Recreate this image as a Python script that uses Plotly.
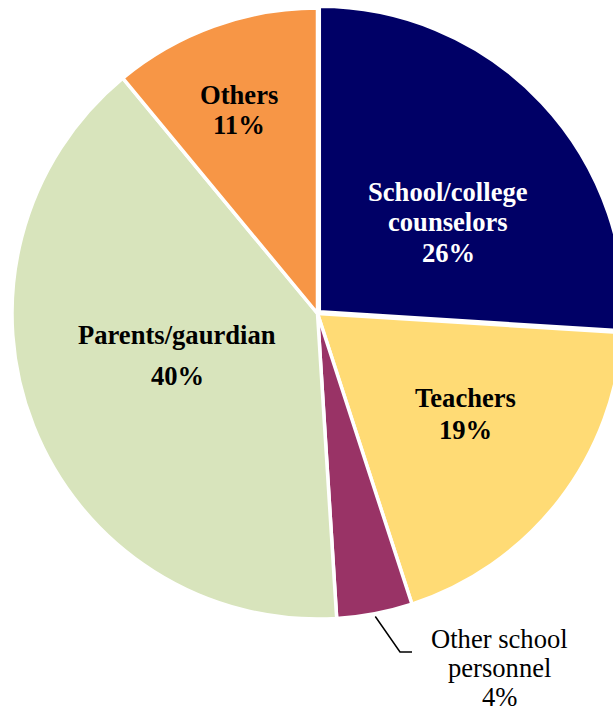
import math
import plotly.graph_objects as go

# Who students turn to for guidance (share of responses, %)
categories = ["School/college counselors", "Teachers", "Other school personnel",
              "Parents/gaurdian", "Others"]
shares = [26, 19, 4, 40, 11]
colors = ["#000066", "#FFDB75", "#993366", "#D8E4BC", "#F79646"]
pulls = [0.008, 0, 0, 0, 0]

W, H = 640, 713
CX, CY, R = 317.5, 313.5, 305.5   # pie centre and radius, in pixels
SERIF = "Liberation Serif"
FONT_SIZE = 26.6


def px(x):
    return x / W


def py(y):
    return 1 - y / H


RD = R * (1 + max(pulls))   # domain half-size leaves room for the pulled slice
fig = go.Figure(go.Pie(
    labels=categories,
    values=shares,
    sort=False,
    direction="clockwise",
    rotation=0,
    pull=pulls,
    marker=dict(colors=colors, line=dict(color="white", width=3.5)),
    textinfo="none",
    hoverinfo="label+percent",
    showlegend=False,
    domain=dict(x=[px(CX - RD), px(CX + RD)], y=[py(CY + RD), py(CY - RD)]),
))

total = sum(shares)
pct = [f"{round(v / total * 100)}%" for v in shares]

# One annotation per text line so the line spacing can be set freely
lines = [
    # (text, x, y, colour, bold)
    ("School/college", 448, 192, "white", True),
    ("counselors", 448, 222, "white", True),
    (pct[0], 448, 253, "white", True),
    ("Teachers", 465, 398, "black", True),
    (pct[1], 465, 430, "black", True),
    ("Parents/gaurdian", 177, 335, "black", True),
    (pct[3], 177, 376, "black", True),
    ("Others", 239, 95, "black", True),
    (pct[4], 239, 125, "black", True),
    ("Other school", 499, 639, "black", False),
    ("personnel", 499, 668, "black", False),
    (pct[2], 499, 697, "black", False),
]
for text, x, y, c, b in lines:
    fig.add_annotation(x=px(x), y=py(y), xref="paper", yref="paper",
                       text=f"<b>{text}</b>" if b else text,
                       showarrow=False, xanchor="center", yanchor="middle",
                       font=dict(family=SERIF, size=FONT_SIZE, color=c))

# Leader line from the small slice's mid-angle to its outside label
start = sum(shares[:2]) / total
mid = (start + shares[2] / total / 2) * 2 * math.pi
x0 = CX + (R + 3) * math.sin(mid)
y0 = CY - (R + 3) * math.cos(mid)
fig.add_shape(type="path", xref="paper", yref="paper",
              path=f"M {px(x0)} {py(y0)} L {px(400)} {py(652)} L {px(412)} {py(652)}",
              line=dict(color="black", width=1.5))

fig.update_layout(width=W, height=H, margin=dict(l=0, r=0, t=0, b=0),
                  paper_bgcolor="white", plot_bgcolor="white")

fig.write_html("out.html",
               post_script="document.body.style.margin='0';"
                           "document.body.style.overflow='hidden';")
